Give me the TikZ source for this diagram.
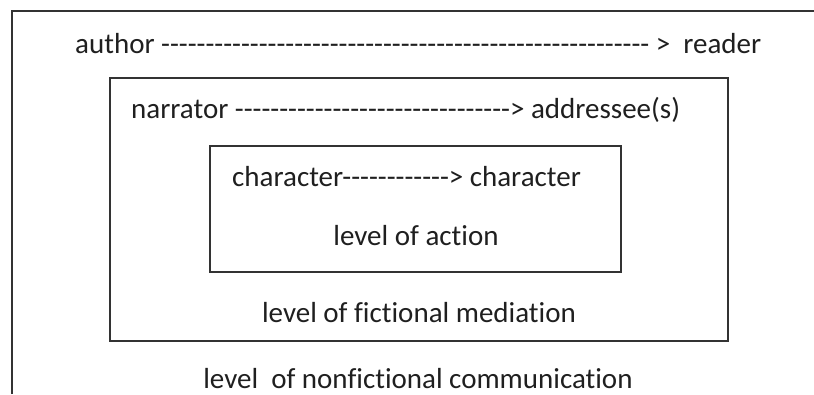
\documentclass[tikz,border=0pt]{standalone}
\usepackage{fontspec}
% plain hyphens must stay hyphens, so no TeX or common ligatures
\newfontfamily\labelfont{Carlito}[Ligatures={NoCommon}]
\begin{document}
\begin{tikzpicture}[x=1pt,y=-1pt,
  frame/.style={draw=black!80,line width=1.4pt},
  lbl/.style={inner sep=0pt,text=black!88,font=\labelfont\fontsize{29}{35}\selectfont},
  row/.style={lbl,anchor=base west},
  caption/.style={lbl,anchor=base}]
\useasboundingbox (0,0) rectangle (814,394);
% outer level: open on the right and at the bottom
\draw[frame] (12,394) -- (12,11) -- (814,11);
% middle and inner levels
\draw[frame] (110,78) rectangle (728,341);
\draw[frame] (210,146) rectangle (621,272);
% communication lines
\node[row] (author) at (75,53) {author -------------------------------------------------------\ >\ \ reader};
\node[row] (narrator) at (131,118) {narrator -------------------------------> addressee(s)};
\node[row] (chars) at (232,186) {character------------> character};
% level captions
\node[caption] (action) at (416,245) {level of action};
\node[caption] (mediation) at (419,322) {level of fictional mediation};
\node[caption] (nonfiction) at (418,388) {level\ \ of nonfictional communication};
\end{tikzpicture}
\end{document}
